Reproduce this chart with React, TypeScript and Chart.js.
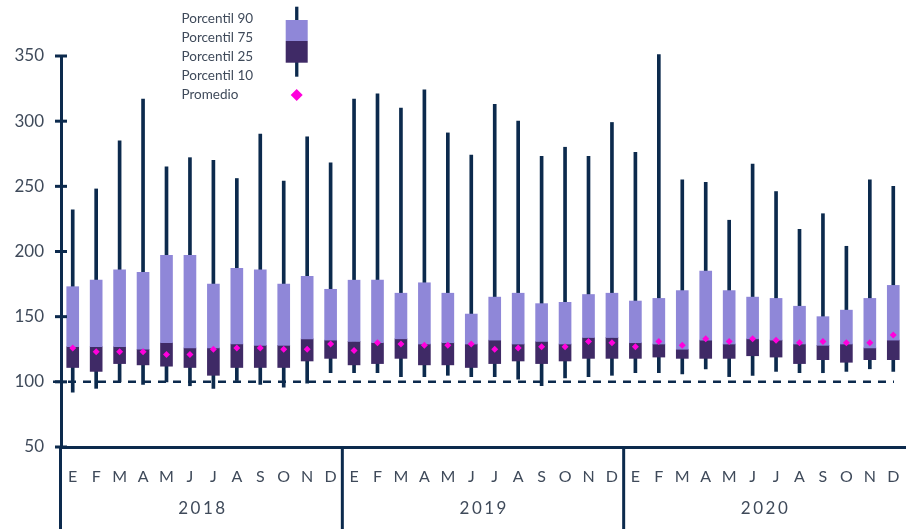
import { useEffect, useRef } from 'react';
import { Chart, registerables } from 'chart.js';

Chart.register(...registerables);

// ---------- data ----------
const months = ['E', 'F', 'M', 'A', 'M', 'J', 'J', 'A', 'S', 'O', 'N', 'D'];
const years = ['2018', '2019', '2020'];
const categories = years.flatMap(() => months);

const p90 = [
  232, 248, 285, 317, 265, 272, 270, 256, 290, 254, 288, 268,
  317, 321, 310, 324, 291, 274, 313, 300, 273, 280, 273, 299,
  276, 351, 255, 253, 224, 267, 246, 217, 229, 204, 255, 250,
];
const p75 = [
  173, 178, 186, 184, 197, 197, 175, 187, 186, 175, 181, 171,
  178, 178, 168, 176, 168, 152, 165, 168, 160, 161, 167, 168,
  162, 164, 170, 185, 170, 165, 164, 158, 150, 155, 164, 174,
];
const p50 = [
  127, 127, 127, 125, 130, 126, 126, 129, 128, 128, 133, 132,
  131, 130, 133, 129, 130, 129, 132, 129, 131, 129, 134, 134,
  130, 129, 125, 132, 129, 133, 132, 129, 128, 129, 126, 132,
];
const p25 = [
  111, 108, 114, 113, 112, 111, 105, 111, 111, 111, 116, 118,
  113, 114, 118, 113, 113, 111, 114, 116, 114, 116, 118, 118,
  118, 119, 118, 118, 118, 120, 119, 114, 117, 115, 117, 117,
];
const p10 = [
  92, 95, 100, 98, 100, 97, 95, 101, 98, 96, 99, 107,
  107, 107, 104, 104, 105, 104, 104, 102, 97, 103, 104, 105,
  107, 107, 106, 110, 104, 105, 108, 107, 107, 108, 110, 108,
];
const mean = [
  126, 123, 123, 123, 121, 121, 125, 126, 126, 125, 125, 129,
  124, 130, 129, 128, 128, 129, 125, 126, 127, 127, 131, 130,
  127, 131, 128, 133, 131, 133, 132, 130, 131, 130, 130, 136,
];

const yMin = 50;
const yMax = 350;
const yStep = 50;
const referenceLevel = 100;
const legendLabels = ['Porcentil 90', 'Porcentil 75', 'Porcentil 25', 'Porcentil 10', 'Promedio'];

// ---------- styles ----------
const NAVY = '#0c2a4d';
const LIGHT = '#8f87d8';
const DARK = '#3f2a66';
const MAGENTA = '#ff00dc';
const TEXT = '#3f4a5a';
const FONT = 'Lato, "Noto Sans", sans-serif';

const decorPlugin = {
  id: 'decor',
  beforeDatasetsDraw(chart: any) {
    const { ctx, chartArea, scales } = chart;
    const py = scales.y.getPixelForValue(referenceLevel);
    ctx.save();
    ctx.strokeStyle = NAVY;
    ctx.lineWidth = 2.5;
    ctx.setLineDash([8, 7]);
    ctx.beginPath();
    ctx.moveTo(chartArea.left - 8, py);
    ctx.lineTo(chartArea.right - 11, py);
    ctx.stroke();
    ctx.restore();
  },
  afterDraw(chart: any) {
    const { ctx, chartArea, scales, height } = chart;
    const x = scales.x;
    const y = scales.y;
    ctx.save();
    ctx.strokeStyle = NAVY;
    ctx.lineWidth = 3;
    // crossing y tick marks
    y.ticks.forEach((t: any) => {
      const py = y.getPixelForValue(t.value);
      ctx.beginPath();
      ctx.moveTo(chartArea.left - 6, py);
      ctx.lineTo(chartArea.left + 6, py);
      ctx.stroke();
    });
    // left line continuing below axis
    ctx.beginPath();
    ctx.moveTo(chartArea.left - 0.5, chartArea.bottom);
    ctx.lineTo(chartArea.left - 0.5, height);
    ctx.stroke();
    // year separators and year labels
    ctx.font = `17px ${FONT}`;
    ctx.fillStyle = TEXT;
    ctx.textAlign = 'center';
    ctx.textBaseline = 'middle';
    (ctx as any).letterSpacing = '2.5px';
    years.forEach((yr, k) => {
      const first = k * months.length;
      const last = first + months.length - 1;
      const cx = (x.getPixelForValue(first) + x.getPixelForValue(last)) / 2;
      ctx.fillText(yr, cx + 1.25, 508.5);
      if (k > 0) {
        const sx = (x.getPixelForValue(first - 1) + x.getPixelForValue(first)) / 2;
        ctx.beginPath();
        ctx.moveTo(sx, chartArea.bottom);
        ctx.lineTo(sx, height);
        ctx.stroke();
      }
    });
    (ctx as any).letterSpacing = '0px';
    // legend
    ctx.font = `13.5px ${FONT}`;
    ctx.textAlign = 'left';
    legendLabels.forEach((lab, i) => {
      ctx.fillText(lab, 181.5, 19 + i * 19);
    });
    const lx = 296.7;
    ctx.fillStyle = NAVY;
    ctx.fillRect(lx - 1.6, 6.7, 3.3, 70);
    ctx.fillStyle = LIGHT;
    ctx.fillRect(lx - 11, 20, 22, 21);
    ctx.fillStyle = DARK;
    ctx.fillRect(lx - 11, 41, 22, 21.7);
    ctx.fillStyle = MAGENTA;
    ctx.beginPath();
    ctx.moveTo(lx, 89);
    ctx.lineTo(lx + 6, 95);
    ctx.lineTo(lx, 101);
    ctx.lineTo(lx - 6, 95);
    ctx.closePath();
    ctx.fill();
    ctx.restore();
  },
};

export default function App() {
  const ref = useRef<HTMLCanvasElement>(null);

  useEffect(() => {
    if (!ref.current) return;
    const chart = new Chart(ref.current, {
      type: 'bar',
      data: {
        labels: categories,
        datasets: [
          {
            type: 'line',
            label: 'Promedio',
            data: mean,
            showLine: false,
            pointStyle: 'rectRot',
            pointRadius: 3.5,
            pointBorderWidth: 0,
            pointBackgroundColor: MAGENTA,
            borderColor: MAGENTA,
            order: 0,
          } as any,
          {
            label: 'Porcentil 75',
            data: p50.map((v, i) => [v, p75[i]]),
            backgroundColor: LIGHT,
            barThickness: 12,
            grouped: false,
            order: 1,
          } as any,
          {
            label: 'Porcentil 25',
            data: p25.map((v, i) => [v, p50[i]]),
            backgroundColor: DARK,
            barThickness: 12,
            grouped: false,
            order: 1,
          } as any,
          {
            label: 'Rango 10-90',
            data: p10.map((v, i) => [v, p90[i]]),
            backgroundColor: NAVY,
            barThickness: 3,
            grouped: false,
            clip: false,
            order: 2,
          } as any,
        ],
      },
      options: {
        animation: false,
        responsive: false,
        layout: { padding: { top: 56, left: 0, right: 0, bottom: 0 } },
        plugins: { legend: { display: false }, tooltip: { enabled: false } },
        scales: {
          x: {
            offset: true,
            grid: { display: false, drawTicks: true, tickLength: 20 },
            border: { display: true, color: NAVY, width: 3 },
            ticks: { color: TEXT, font: { family: FONT, size: 16 }, padding: 0, autoSkip: false, maxRotation: 0 },
            afterFit: (s: any) => { s.height = 82; },
          },
          y: {
            min: yMin,
            max: yMax,
            grid: { display: false, drawTicks: false },
            border: { display: true, color: NAVY, width: 3 },
            ticks: { stepSize: yStep, color: TEXT, font: { family: FONT, size: 17 }, padding: 17 },
            afterFit: (s: any) => { s.width = 61; },
          },
        },
      },
      plugins: [decorPlugin],
    });
    return () => chart.destroy();
  }, []);

  return (
    <div style={{ position: 'absolute', left: 0, top: 0, width: 909, height: 529 }}>
      <canvas ref={ref} width={909} height={529} />
    </div>
  );
}
